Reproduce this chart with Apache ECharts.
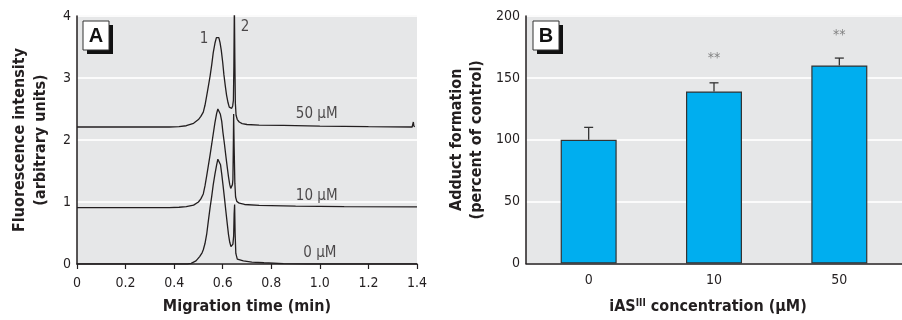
<!DOCTYPE html>
<html><head><meta charset="utf-8">
<script src="https://cdn.jsdelivr.net/npm/echarts@6/dist/echarts.min.js"></script>
<style>html,body{margin:0;padding:0;background:#fff}#c{width:902px;height:320px}</style>
</head><body><div id="c"></div>
<script>
// ---------- Panel A data (migration time [min], fluorescence [a.u.]) ----------
const trace50 = [[0,2.21],[0.38,2.21],[0.42,2.215],[0.45,2.23],[0.48,2.27],[0.50,2.33],[0.51,2.38],[0.52,2.45],[0.527,2.56],[0.534,2.71],[0.541,2.87],[0.548,3.03],[0.555,3.22],[0.561,3.41],[0.568,3.56],[0.574,3.65],[0.579,3.68],[0.584,3.65],[0.589,3.57],[0.594,3.45],[0.600,3.25],[0.605,3.05],[0.611,2.86],[0.616,2.72],[0.622,2.60],[0.627,2.53],[0.632,2.50],[0.637,2.51],[0.641,2.55],[0.644,2.64],[0.646,3.2],[0.648,4.2],[0.650,3.3],[0.652,2.6],[0.655,2.40],[0.660,2.33],[0.668,2.29],[0.680,2.265],[0.70,2.25],[0.75,2.24],[0.85,2.235],[1.0,2.225],[1.2,2.215],[1.38,2.21],[1.383,2.24],[1.385,2.29],[1.387,2.23],[1.39,2.21]];
const trace10 = [[0,0.91],[0.38,0.91],[0.42,0.915],[0.45,0.925],[0.48,0.95],[0.50,1.00],[0.51,1.05],[0.52,1.13],[0.527,1.26],[0.534,1.42],[0.541,1.59],[0.548,1.76],[0.555,1.94],[0.561,2.10],[0.568,2.28],[0.575,2.43],[0.580,2.50],[0.585,2.48],[0.590,2.42],[0.596,2.30],[0.601,2.12],[0.607,1.94],[0.613,1.74],[0.619,1.55],[0.624,1.40],[0.629,1.28],[0.633,1.22],[0.637,1.23],[0.640,1.28],[0.642,1.36],[0.644,2.0],[0.645,2.42],[0.647,1.9],[0.650,1.3],[0.653,1.08],[0.658,1.01],[0.668,0.98],[0.69,0.96],[0.75,0.945],[0.9,0.935],[1.1,0.925],[1.4,0.92]];
const trace0 = [[0,0],[0.455,0],[0.47,0.01],[0.49,0.05],[0.505,0.12],[0.515,0.18],[0.52,0.23],[0.527,0.33],[0.534,0.48],[0.541,0.70],[0.548,0.91],[0.555,1.10],[0.561,1.28],[0.568,1.45],[0.575,1.60],[0.580,1.69],[0.583,1.72],[0.587,1.69],[0.591,1.60],[0.596,1.45],[0.601,1.28],[0.607,1.07],[0.613,0.85],[0.619,0.64],[0.624,0.47],[0.629,0.35],[0.634,0.28],[0.638,0.27],[0.642,0.32],[0.645,0.45],[0.647,0.8],[0.649,0.96],[0.651,0.5],[0.654,0.17],[0.660,0.08],[0.668,0.06],[0.685,0.05],[0.72,0.03],[0.77,0.02],[0.85,0.006],[0.95,0],[1.4,0]];
const xTickLabelsA = ['0','0.2','0.4','0.6','0.8','1.0','1.2','1.4'];
const yTickLabelsA = ['0','1','2','3','4'];
// annotations [x, y, text]
const annotationsA = [[0.523,3.63,'1'],[0.692,3.82,'2'],[0.987,2.41,'50 \u03bcM'],[0.987,1.10,'10 \u03bcM'],[1.0,0.18,'0 \u03bcM']];

// ---------- Panel B data ----------
const categories = ['0','10','50'];
const adduct = [100,139,160];
const adductErr = [10,7,6];
const starText = ['','**','**'];
const starY = [null,166,184];

const FONT = '"Liberation Sans Narrow","DejaVu Sans Condensed","Arial Narrow",sans-serif';
const INK = '#231f20';
const BG = '#e6e7e8';

const chart = echarts.init(document.getElementById('c'), null, {renderer:'canvas'});

function panelBox(x, y, letter){
  return {type:'group', children:[
    {type:'rect', shape:{x:x+4, y:y+4, width:26, height:29}, style:{fill:'#111'}},
    {type:'rect', shape:{x:x, y:y, width:26, height:29}, style:{fill:'#fff', stroke:'#333', lineWidth:1}},
    {type:'text', style:{x:x+13, y:y+15.5, text:letter, fill:'#111', font:'bold 20px "Liberation Sans", Arial, sans-serif', align:'center', verticalAlign:'middle'}}
  ]};
}

const option = {
  animation:false,
  backgroundColor:'#fff',
  textStyle:{fontFamily:FONT, color:INK},
  grid:[
    {left:77, top:16, width:340, height:251, show:true, backgroundColor:BG, borderWidth:0, containLabel:false},
    {left:526, top:16, width:384, height:251, show:true, backgroundColor:BG, borderWidth:0, containLabel:false}
  ],
  xAxis:[
    {gridIndex:0, type:'value', min:0, max:1.4, interval:0.2,
     axisLine:{show:true, onZero:false, lineStyle:{color:INK, width:1.5}},
     axisTick:{show:true, length:5, lineStyle:{color:INK, width:1.2}},
     axisLabel:{fontFamily:FONT, fontSize:14, color:INK, margin:12, formatter:v=>xTickLabelsA[Math.round(v/0.2)]},
     splitLine:{show:false},
     name:'Migration time (min)', nameLocation:'middle', nameGap:35,
     nameTextStyle:{fontFamily:FONT, fontSize:16, fontWeight:'bold', color:INK}},
    {gridIndex:1, type:'category', data:categories,
     axisLine:{show:true, lineStyle:{color:INK, width:1.5}},
     axisTick:{show:false},
     axisLabel:{fontFamily:FONT, fontSize:14, color:INK, margin:10},
     splitLine:{show:false},
     name:'{a|iAS}{s|III}{a| concentration (\u03bcM)}', nameLocation:'middle', nameGap:35,
     nameTextStyle:{fontFamily:FONT, fontSize:16, fontWeight:'bold', color:INK, padding:[0,12,0,0],
       rich:{a:{fontFamily:FONT, fontSize:16, fontWeight:'bold', color:INK},
             s:{fontFamily:FONT, fontSize:10, fontWeight:'bold', color:INK, verticalAlign:'top', padding:[0,0,7,0]}}}}
  ],
  yAxis:[
    {gridIndex:0, type:'value', min:0, max:4, interval:1,
     axisLine:{show:true, lineStyle:{color:INK, width:1.5}},
     axisTick:{show:false},
     axisLabel:{fontFamily:FONT, fontSize:14, color:INK, margin:6, formatter:v=>yTickLabelsA[Math.round(v)]},
     splitLine:{show:true, lineStyle:{color:'#fbfbfb', width:2}},
     name:'Fluorescence intensity\n(arbitrary units)', nameLocation:'middle', nameGap:26, nameRotate:90,
     nameTextStyle:{fontFamily:FONT, fontSize:16, fontWeight:'bold', color:INK, lineHeight:21}},
    {gridIndex:1, type:'value', min:0, max:200, interval:50,
     axisLine:{show:true, lineStyle:{color:INK, width:1.5}},
     axisTick:{show:false},
     axisLabel:{fontFamily:FONT, fontSize:14, color:INK, margin:6},
     splitLine:{show:true, lineStyle:{color:'#fbfbfb', width:2}},
     name:'Adduct formation\n(percent of control)', nameLocation:'middle', nameGap:39, nameRotate:90,
     nameTextStyle:{fontFamily:FONT, fontSize:16, fontWeight:'bold', color:INK, lineHeight:20}}
  ],
  series:[
    {type:'line', xAxisIndex:0, yAxisIndex:0, data:trace50, showSymbol:false, clip:true, lineStyle:{color:INK, width:1.3}, z:3},
    {type:'line', xAxisIndex:0, yAxisIndex:0, data:trace10, showSymbol:false, clip:true, lineStyle:{color:INK, width:1.3}, z:3},
    {type:'line', xAxisIndex:0, yAxisIndex:0, data:trace0, showSymbol:false, clip:true, lineStyle:{color:INK, width:1.3}, z:3},
    {type:'scatter', xAxisIndex:0, yAxisIndex:0, symbolSize:1, itemStyle:{color:'transparent'},
     data:annotationsA.map(a=>({value:[a[0],a[1]], name:a[2]})),
     label:{show:true, position:'inside', formatter:p=>p.name, fontFamily:FONT, fontSize:15, color:INK}, z:4},
    {type:'bar', xAxisIndex:1, yAxisIndex:1, data:adduct, barWidth:56,
     itemStyle:{color:'#00aeef', borderColor:'#333', borderWidth:1.2}, z:3},
    {type:'custom', xAxisIndex:1, yAxisIndex:1, z:4,
     data:categories.map((c,i)=>[i, adduct[i], adductErr[i]]),
     renderItem:function(params, api){
       const p0 = api.coord([api.value(0), api.value(1)]);
       const p1 = api.coord([api.value(0), api.value(1)+api.value(2)]);
       const h = 4.5;
       const st = {stroke:'#333', lineWidth:1.3};
       return {type:'group', children:[
         {type:'line', shape:{x1:p0[0], y1:p0[1], x2:p1[0], y2:p1[1]}, style:st},
         {type:'line', shape:{x1:p1[0]-h, y1:p1[1], x2:p1[0]+h, y2:p1[1]}, style:st}
       ]};
     }},
    {type:'scatter', xAxisIndex:1, yAxisIndex:1, symbolSize:1, itemStyle:{color:'transparent'},
     data:categories.map((c,i)=>starY[i]==null?null:{value:[i, starY[i]], name:starText[i]}).filter(d=>d),
     label:{show:true, position:'inside', formatter:p=>p.name, fontFamily:FONT, fontSize:14, color:'#666'}, z:5}
  ],
  graphic:[ panelBox(83,21,'A'), panelBox(533,21,'B') ]
};
chart.setOption(option);
</script>
</body></html>
